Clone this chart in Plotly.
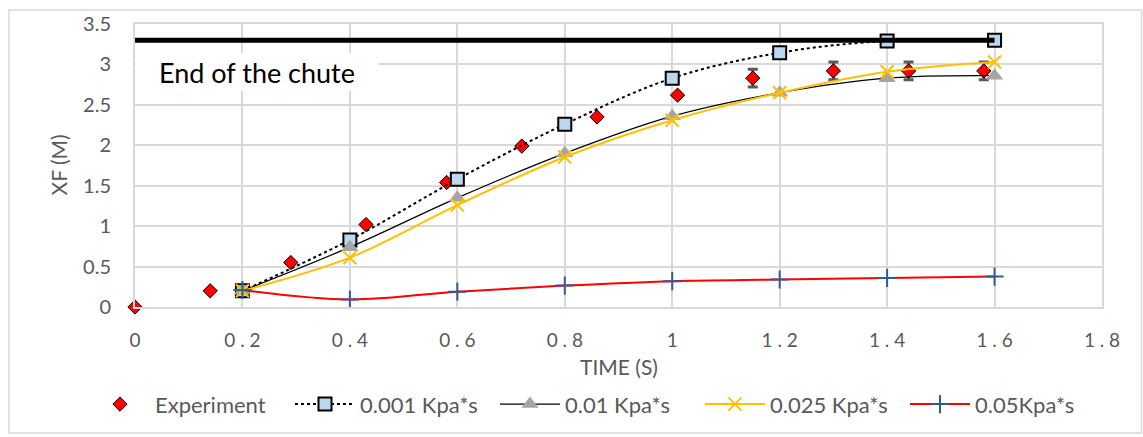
import plotly.graph_objects as go

# ---- data -------------------------------------------------------------
exp_time = [0.0, 0.14, 0.29, 0.43, 0.58, 0.72, 0.86, 1.01, 1.15, 1.30, 1.44, 1.58]
exp_xf = [0.0, 0.20, 0.55, 1.02, 1.54, 1.99, 2.35, 2.62, 2.83, 2.92, 2.92, 2.92]
exp_err = [0, 0, 0, 0, 0, 0, 0, 0, 0.11, 0.11, 0.11, 0.11]

sim_time = [0.2, 0.4, 0.6, 0.8, 1.0, 1.2, 1.4, 1.6]
xf_0001 = [0.20, 0.83, 1.58, 2.26, 2.83, 3.145, 3.29, 3.30]
xf_001 = [0.20, 0.74, 1.35, 1.90, 2.36, 2.65, 2.83, 2.86]
xf_0025 = [0.20, 0.61, 1.26, 1.855, 2.31, 2.65, 2.91, 3.03]
xf_005 = [0.21, 0.093, 0.19, 0.265, 0.32, 0.34, 0.36, 0.376]

chute_end_time = [0.0, 1.6]
chute_end_xf = [3.3, 3.3]

x_ticks = [0, 0.2, 0.4, 0.6, 0.8, 1, 1.2, 1.4, 1.6, 1.8]
x_tick_labels = ["0", "0.2", "0.4", "0.6", "0.8", "1", "1.2", "1.4", "1.6", "1.8"]
y_ticks = [0, 0.5, 1, 1.5, 2, 2.5, 3, 3.5]
y_tick_labels = ["0", "0.5", "1", "1.5", "2", "2.5", "3", "3.5"]

FONT = "Lato"
GREY = "#595959"
GRID = "#D9D9D9"
FS = 22

fig = go.Figure()

fig.add_trace(go.Scatter(
    x=exp_time, y=exp_xf, name="Experiment", mode="markers", cliponaxis=False,
    marker=dict(symbol="diamond", size=11, color="#FF0000",
                line=dict(color="#000000", width=1)),
    error_y=dict(type="data", array=exp_err, visible=True,
                 color="#5A5A5A", thickness=3, width=5),
))
fig.add_trace(go.Scatter(
    x=sim_time, y=xf_0001, name="0.001 Kpa*s", mode="lines+markers",
    line=dict(color="#000000", width=2, dash="dot", shape="spline"),
    marker=dict(symbol="square", size=13, color="#BDD7EE",
                line=dict(color="#000000", width=2)),
))
fig.add_trace(go.Scatter(
    x=sim_time, y=xf_001, name="0.01 Kpa*s", mode="lines+markers",
    line=dict(color="#000000", width=1.2, shape="spline"),
    marker=dict(symbol="triangle-up", size=15, color="#A5A5A5"),
))
fig.add_trace(go.Scatter(
    x=sim_time, y=xf_0025, name="0.025 Kpa*s", mode="lines+markers",
    line=dict(color="#FFC000", width=2, shape="spline"),
    marker=dict(symbol="x-thin", size=13, color="#FFC000",
                line=dict(color="#FFC000", width=2)),
))
fig.add_trace(go.Scatter(
    x=sim_time, y=xf_005, name="0.05Kpa*s", mode="lines+markers",
    line=dict(color="#FF0000", width=2, shape="spline"),
    marker=dict(symbol="cross-thin", size=13, color="#2F5D8C",
                line=dict(color="#2F5D8C", width=2)),
))
# end of the chute
fig.add_trace(go.Scatter(
    x=chute_end_time, y=chute_end_xf, mode="lines", showlegend=False,
    line=dict(color="#000000", width=5), hoverinfo="skip",
))

spaced_x_labels = [t.replace(".", " . ") for t in x_tick_labels]

fig.update_xaxes(
    range=[0, 1.8], tickvals=x_ticks, ticktext=spaced_x_labels,
    showgrid=True, gridcolor=GRID, gridwidth=2, zeroline=False,
    showline=True, mirror=True, linecolor=GRID, linewidth=2,
    tickfont=dict(family=FONT, size=19, color=GREY),
    ticks="", ticklabelstandoff=15,
)
fig.update_yaxes(
    range=[0, 3.5], tickvals=y_ticks, ticktext=y_tick_labels,
    showgrid=True, gridcolor=GRID, gridwidth=2, zeroline=False,
    showline=True, mirror=True, linecolor=GRID, linewidth=2,
    tickfont=dict(family=FONT, size=20, color=GREY),
    ticks="", ticklabelstandoff=18,
)

L, R, T, B = 135, 41, 24, 128
W, H = 1143, 437
pw, ph = W - L - R, H - T - B


def px_x(p):
    return (p - L) / pw


def px_y(p):
    return (H - B - p) / ph


fig.update_layout(
    width=W, height=H,
    margin=dict(l=L, r=R, t=T, b=B, pad=0),
    paper_bgcolor="white", plot_bgcolor="white",
    font=dict(family=FONT, color=GREY),
    showlegend=True,
    legend=dict(
        orientation="h", x=px_x(85), y=px_y(407), xanchor="left", yanchor="middle",
        font=dict(family=FONT, size=FS, color=GREY),
        itemwidth=60, entrywidth=130, entrywidthmode="pixels",
        bgcolor="rgba(0,0,0,0)",
    ),
    annotations=[
        dict(text="End of the chute", x=0.228, y=2.909, xref="x", yref="y",
             xanchor="center", yanchor="middle", showarrow=False,
             font=dict(family=FONT, size=27, color="#000000"),
             bgcolor="white", width=240, height=34, borderpad=1),
        dict(text="TIME (S)", x=0.5, y=px_y(369), xref="paper", yref="paper",
             xanchor="center", yanchor="middle", showarrow=False,
             font=dict(family=FONT, size=FS - 1, color=GREY)),
        dict(text="XF (M)", x=px_x(58), y=0.5, xref="paper", yref="paper",
             xanchor="center", yanchor="middle", showarrow=False, textangle=-90,
             font=dict(family=FONT, size=FS - 1, color=GREY)),
    ],
    shapes=[
        dict(type="rect", xref="paper", yref="paper",
             x0=px_x(9), x1=px_x(1141.5), y0=px_y(436), y1=px_y(10),
             line=dict(color=GRID, width=1.5), fillcolor="rgba(0,0,0,0)", layer="below"),
    ],
)

fig.write_html("out.html")
